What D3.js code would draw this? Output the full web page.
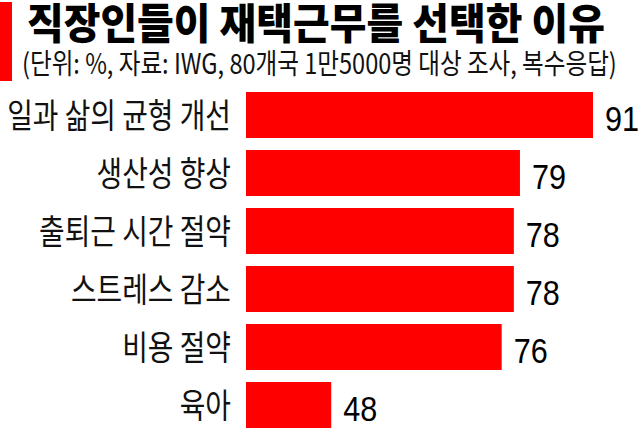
<!DOCTYPE html>
<html>
<head>
<meta charset="utf-8">
<script src="https://cdn.jsdelivr.net/npm/d3@7"></script>
<style>
  body { margin: 0; background: #fff; }
  text { font-family: "Noto Sans CJK KR", "Noto Sans", sans-serif; }
</style>
</head>
<body>
<div id="chart"></div>
<script>
  // data
  var categories = ["일과 삶의 균형 개선", "생산성 향상", "출퇴근 시간 절약", "스트레스 감소", "비용 절약", "육아"];
  var values = [91, 79, 78, 78, 76, 48];
  var title = "직장인들이 재택근무를 선택한 이유";
  var subtitle = "(단위: %, 자료: IWG, 80개국 1만5000명 대상 조사, 복수응답)";

  var width = 638, height = 429;
  var data = categories.map(function (c, i) { return { name: c, value: values[i] }; });

  var svg = d3.select("#chart").append("svg")
      .attr("width", width)
      .attr("height", height);

  // axis is cut, bars begin at about 34
  var x = d3.scaleLinear().domain([34, 91]).range([246, 593]);
  var y = d3.scaleBand().domain(categories).range([92, 428]).paddingInner(0.207).paddingOuter(0);

  // squeeze a text to a given width (the print uses condensed type)
  function fit(sel, w) {
    var len = sel.node().getComputedTextLength();
    return w / len;
  }

  // red marker on the left of the heading
  svg.append("rect")
      .attr("x", 0).attr("y", 2)
      .attr("width", 12).attr("height", 79)
      .attr("fill", "#ff0000");

  var t = svg.append("text")
      .attr("font-size", 42)
      .attr("font-weight", 900)
      .attr("fill", "#000")
      .text(title);
  t.attr("transform", "translate(27,39) scale(" + fit(t, 578) + ",1)");

  var st = svg.append("text")
      .attr("font-size", 28)
      .attr("fill", "#111")
      .text(subtitle);
  st.attr("transform", "translate(22,74) scale(" + fit(st, 595) + ",1)");

  // bars
  svg.selectAll(".bar")
    .data(data)
    .enter()
    .append("rect")
      .attr("class", "bar")
      .attr("x", x(34))
      .attr("y", function (d) { return y(d.name); })
      .attr("width", function (d) { return x(d.value) - x(34); })
      .attr("height", y.bandwidth())
      .attr("fill", "#ff0000");

  // category labels
  svg.selectAll(".lbl")
    .data(data)
    .enter()
    .append("text")
      .attr("class", "lbl")
      .attr("text-anchor", "end")
      .attr("font-size", 34)
      .attr("fill", "#111")
      .attr("transform", function (d) {
        return "translate(231," + (y(d.name) + y.bandwidth() / 2 + 13) + ") scale(0.82,1)";
      })
      .text(function (d) { return d.name; });

  // values
  svg.selectAll(".val")
    .data(data)
    .enter()
    .append("text")
      .attr("class", "val")
      .style("font-family", "'Liberation Sans', Arial, sans-serif")
      .attr("font-size", 36)
      .attr("fill", "#000")
      .attr("transform", function (d) {
        return "translate(" + (x(d.value) + 12) + "," + (y(d.name) + y.bandwidth() / 2 + 16) + ") scale(0.85,1)";
      })
      .text(function (d) { return d.value; });
</script>
</body>
</html>
